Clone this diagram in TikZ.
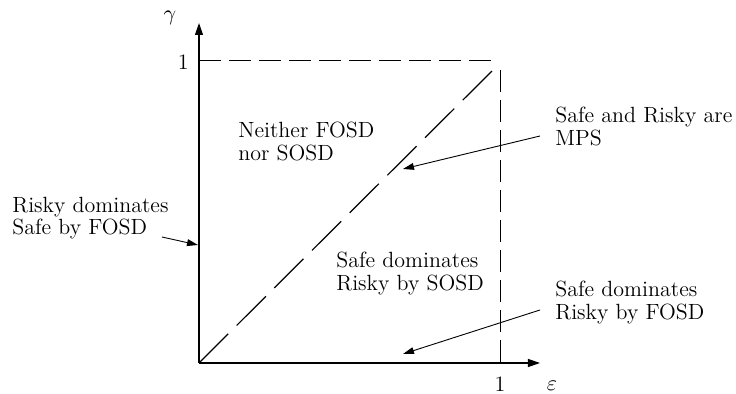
\documentclass[tikz,border=0pt]{standalone}
\usetikzlibrary{arrows.meta}
\begin{document}
\begin{tikzpicture}[x=0.5pt,y=-0.5pt,
  axis/.style={line width=0.6pt,-{Triangle[length=6pt,width=4pt]}},
  guide/.style={line width=0.5pt,dash pattern=on 11pt off 4pt},
  diag/.style={line width=0.6pt,dash pattern=on 20.6pt off 6pt},
  pointer/.style={line width=0.45pt,-{Triangle[length=5.5pt,width=3.4pt]}},
  lbl/.style={inner sep=0pt,anchor=north west,align=left,font=\fontsize{11}{11.4}\selectfont},
  tick/.style={inner sep=0pt,font=\fontsize{11}{12}\selectfont}]
\useasboundingbox (0,0) rectangle (736,394);
% key points
\coordinate (O) at (199,363);
\coordinate (ytip) at (199,23);
\coordinate (xtip) at (540,363);
\coordinate (topL) at (199,61);
\coordinate (topR) at (493,61);
\coordinate (vTop) at (501,70);
\coordinate (vBot) at (501,363);
\coordinate (dEnd) at (492,71);
% axes
\draw[axis] (O) -- (ytip);
\draw[axis] (O) -- (xtip);
% dashed lines
\draw[guide] (topL) -- (topR);
\draw[guide] (vTop) -- (vBot);
\draw[diag] (O) -- (dEnd);
% axis labels
\node[tick] (gam) at (170,18) {$\gamma$};
\node[tick,anchor=east] (oneY) at (189,62) {1};
\node[tick] (oneX) at (500,384) {1};
\node[tick] (eps) at (552,386) {$\varepsilon$};
% region labels
\node[lbl] (risky) at (12,196.5) {Risky dominates\\Safe by FOSD};
\node[lbl] (neither) at (238,121.5) {Neither FOSD\\nor SOSD};
\node[lbl] (sosd) at (336,251.5) {Safe dominates\\Risky by SOSD};
\node[lbl] (mps) at (555,106.5) {Safe and Risky are\\MPS};
\node[lbl] (fosd) at (555,280.5) {Safe dominates\\Risky by FOSD};
% pointers
\coordinate (p1s) at (162,237);
\coordinate (p1e) at (198,245);
\coordinate (p2s) at (540,136);
\coordinate (p2e) at (403,169);
\coordinate (p3s) at (540,310);
\coordinate (p3e) at (403,354);
\draw[pointer] (p1s) -- (p1e);
\draw[pointer] (p2s) -- (p2e);
\draw[pointer] (p3s) -- (p3e);
\end{tikzpicture}
\end{document}
